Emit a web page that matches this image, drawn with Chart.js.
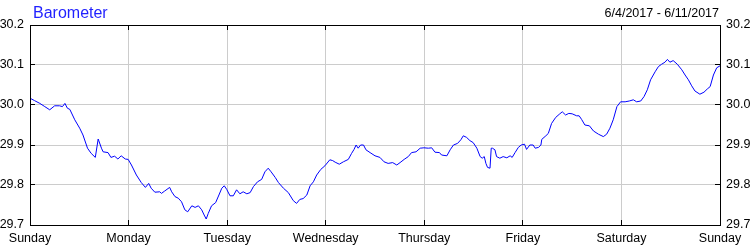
<!DOCTYPE html>
<html>
<head>
<meta charset="utf-8">
<title>Barometer</title>
<script src="https://cdn.jsdelivr.net/npm/chart.js@4"></script>
<style>
  body { margin: 0; background: #fff; }
  #wrap { position: relative; width: 750px; height: 250px; }
  #chartTitle {
    position: absolute; left: 33px; top: 4.5px;
    font: 16px/16px "Liberation Sans", Arial, sans-serif; color: #1f1fff;
  }
  #dateRange {
    position: absolute; right: 31px; top: 6.7px;
    font: 12.5px/12.5px "Liberation Sans", Arial, sans-serif; color: #000;
  }
</style>
</head>
<body>
<div id="wrap">
  <canvas id="baroChart" width="750" height="250"></canvas>
  <div id="chartTitle">Barometer</div>
  <div id="dateRange">6/4/2017 - 6/11/2017</div>
</div>
<script>
// Day names for the x axis (one tick every 24 hours)
const dayLabels = ['Sunday', 'Monday', 'Tuesday', 'Wednesday', 'Thursday', 'Friday', 'Saturday', 'Sunday'];

// Hours since Sunday 00:00
const hours = [
  0, 1.1, 2.4, 3.6, 4.8, 6.0, 7.2, 7.9, 8.5, 9.1, 9.7, 10.9, 12.1, 12.9, 14.0, 14.9, 15.9, 16.6, 17.4, 17.8,
  19.0, 19.7, 20.6, 21.4, 22.2, 23.2, 23.9, 24.7, 25.9, 27.1, 28.1, 28.9, 29.5, 30.4, 31.6, 32.0, 32.8, 34.0,
  34.5, 35.3, 36.1, 36.9, 37.7, 38.4, 39.4, 40.2, 41.0, 41.8, 42.4, 42.9, 43.4, 44.2, 45.2, 46.0, 46.7, 47.3,
  47.9, 48.7, 49.5, 50.3, 51.1, 51.9, 52.8, 53.6, 54.4, 55.4, 56.4, 57.2, 58.0, 58.7, 59.7, 60.5, 61.7, 62.9,
  64.1, 64.9, 65.7, 66.5, 67.4,
  68.2, 69.0, 69.8, 70.8, 71.8, 73.0, 73.7, 74.3, 75.3, 76.3, 77.5, 78.3, 78.9, 79.4, 79.9, 80.5, 81.2, 81.8,
  82.8, 84.0, 85.2, 86.2, 87.2, 88.3, 89.3, 90.1, 91.1, 92.1, 92.9, 94.0, 95.0, 95.9, 97.0, 97.8, 98.6, 99.7, 100.2,
  101.5, 102.3, 103.1, 104.1, 104.9, 105.5, 106.3, 107.1, 107.9, 108.8, 109.6, 110.1, 110.6, 111.0, 111.4, 112.0,
  112.3, 112.6, 113.2, 113.6, 114.4, 115.2, 116.1, 116.9, 117.4, 118.1, 118.9, 119.6, 120.4, 120.9, 121.7, 122.5,
  123.0, 123.8, 124.4, 124.6, 125.6, 126.2, 127.0, 128.0, 129.0, 129.6, 130.4, 131.2, 132.0, 133.1,
  133.7, 134.3, 135.1, 136.2, 137.2, 138.4, 139.6, 140.4, 141.2, 142.0, 142.9, 143.8, 144.9, 145.9, 146.9, 147.7,
  148.7, 149.5, 150.3, 151.1, 152.2, 153.0, 153.8, 154.6, 155.2, 155.8, 156.6, 157.6, 158.7, 159.5, 160.3, 161.1,
  161.9, 163.1, 164.1, 164.9, 165.6, 166.4, 167.2, 168
];

// Barometric pressure (inHg)
const pressure = [
  30.017, 30.011, 30.004, 29.996, 29.988, 29.998, 29.998, 29.996, 30.004, 29.992, 29.989, 29.963, 29.942, 29.925,
  29.892, 29.879, 29.869, 29.915, 29.892, 29.883, 29.881, 29.869, 29.872, 29.865, 29.873, 29.865, 29.864, 29.850,
  29.825, 29.806, 29.794, 29.804, 29.792, 29.782, 29.783, 29.779, 29.785, 29.794,
  29.783, 29.771, 29.767, 29.758, 29.738, 29.733, 29.748, 29.744, 29.748, 29.738, 29.725, 29.715, 29.729, 29.748,
  29.756, 29.775, 29.792, 29.798, 29.789, 29.773, 29.773, 29.788, 29.778, 29.783, 29.778, 29.781, 29.796, 29.808,
  29.814, 29.833, 29.842, 29.833, 29.819, 29.806, 29.792, 29.781, 29.761, 29.754, 29.764, 29.766, 29.775,
  29.798, 29.808, 29.825, 29.839, 29.848, 29.863, 29.861, 29.857, 29.852, 29.858, 29.864, 29.879, 29.889, 29.900,
  29.892, 29.900, 29.900, 29.888, 29.881, 29.873, 29.869, 29.858, 29.854, 29.856, 29.850, 29.856, 29.864, 29.871,
  29.881, 29.883, 29.892, 29.893, 29.892, 29.893, 29.882, 29.881, 29.875,
  29.873, 29.888, 29.900, 29.904, 29.913, 29.923, 29.919, 29.911, 29.906, 29.892, 29.871, 29.867, 29.871, 29.854,
  29.844, 29.842, 29.892, 29.892, 29.888, 29.871, 29.867, 29.871, 29.868, 29.873, 29.869, 29.881, 29.894, 29.900,
  29.902, 29.889, 29.900, 29.900, 29.892, 29.894, 29.900, 29.914, 29.923, 29.929, 29.954, 29.969, 29.978, 29.983,
  29.975, 29.979, 29.978, 29.973,
  29.973, 29.964, 29.950, 29.948, 29.935, 29.927, 29.921, 29.927, 29.942, 29.963, 29.996, 30.008, 30.008, 30.010,
  30.013, 30.008, 30.010, 30.021, 30.038, 30.063, 30.083, 30.096, 30.102, 30.107, 30.114, 30.107, 30.111, 30.102,
  30.088, 30.075, 30.063, 30.048, 30.035, 30.027, 30.032, 30.040, 30.046, 30.075, 30.093, 30.098
];

const yMin = 29.7;
const yMax = 30.2;

Chart.defaults.font.family = '"Liberation Sans", Arial, sans-serif';
Chart.defaults.font.size = 12.5;
Chart.defaults.color = '#000';

// Frame around the plot plus short tick marks pointing inward
const frameTicks = {
    id: 'frameTicks',
    afterDraw(chart) {
        const { ctx, chartArea: a, scales } = chart;
        const snap = v => Math.round(v - 0.5) + 0.5;
        ctx.save();
        ctx.strokeStyle = '#000';
        ctx.lineWidth = 1;
        ctx.beginPath();
        scales.x.ticks.forEach(t => {
            const px = snap(scales.x.getPixelForValue(t.value));
            ctx.moveTo(px, a.bottom); ctx.lineTo(px, a.bottom - 5);
            ctx.moveTo(px, a.top); ctx.lineTo(px, a.top + 5);
        });
        scales.y.ticks.forEach(t => {
            const py = snap(scales.y.getPixelForValue(t.value));
            ctx.moveTo(a.left, py); ctx.lineTo(a.left + 5, py);
            ctx.moveTo(a.right, py); ctx.lineTo(a.right - 5, py);
        });
        ctx.stroke();
        ctx.strokeRect(a.left + 0.5, a.top + 0.5, a.right - a.left, a.bottom - a.top);
        ctx.restore();
    }
};

const ctx = document.getElementById('baroChart').getContext('2d');
new Chart(ctx, {
    type: 'line',
    data: {
        datasets: [{
            label: 'Barometer',
            data: hours.map((h, i) => ({ x: h, y: pressure[i] })),
            borderColor: '#0000ff',
            borderWidth: 1,
            pointRadius: 0,
            tension: 0,
            fill: false
        }]
    },
    options: {
        responsive: false,
        animation: false,
        layout: { padding: { top: 25, left: 0, right: 0, bottom: 0 } },
        plugins: {
            legend: { display: false },
            tooltip: { enabled: false }
        },
        scales: {
            x: {
                type: 'linear',
                min: 0,
                max: 168,
                border: { display: false },
                grid: { color: '#cccccc', drawTicks: false },
                ticks: {
                    stepSize: 24,
                    autoSkip: false,
                    maxRotation: 0,
                    padding: 6,
                    callback: v => dayLabels[Math.round(v / 24)]
                },
                afterFit: s => { s.height = 25; }
            },
            y: {
                position: 'left',
                min: yMin,
                max: yMax,
                border: { display: false },
                grid: { color: '#cccccc', drawTicks: false },
                ticks: { stepSize: 0.1, padding: 6, callback: v => Number(v).toFixed(1) },
                afterFit: s => { s.width = 30; }
            },
            y2: {
                position: 'right',
                min: yMin,
                max: yMax,
                border: { display: false },
                grid: { drawOnChartArea: false, drawTicks: false },
                ticks: { stepSize: 0.1, padding: 6, callback: v => Number(v).toFixed(1) },
                afterFit: s => { s.width = 30; }
            }
        }
    },
    plugins: [frameTicks]
});
</script>
</body>
</html>
